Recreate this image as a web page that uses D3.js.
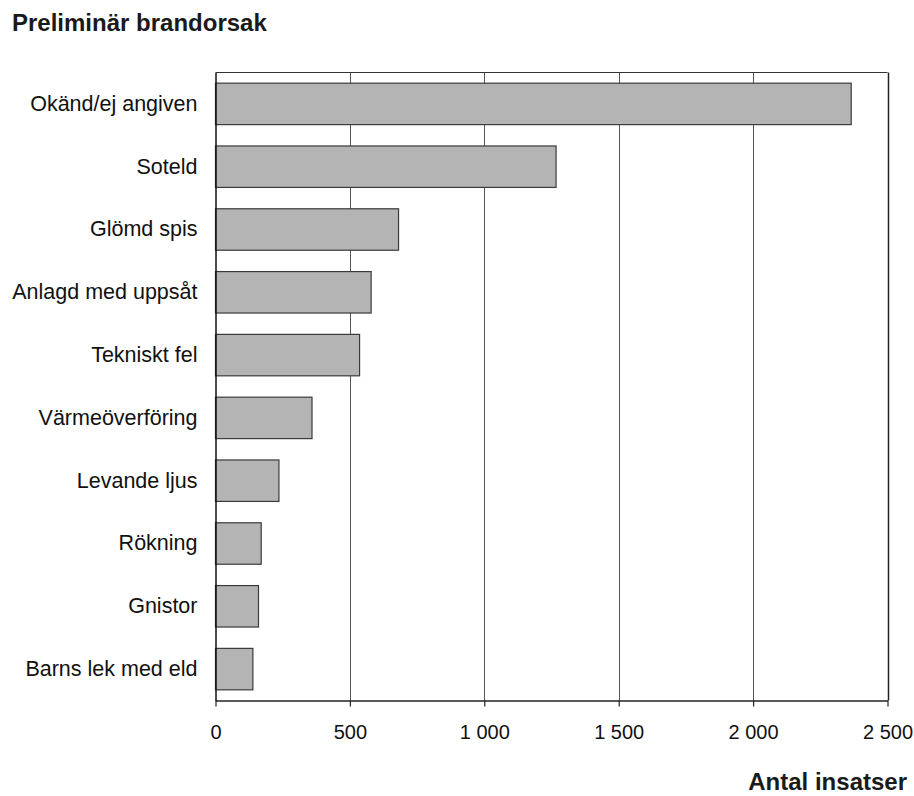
<!DOCTYPE html>
<html>
<head>
<meta charset="utf-8">
<script src="https://cdn.jsdelivr.net/npm/d3@7"></script>
<style>
  html, body { margin: 0; padding: 0; background: #fff; }
  svg { display: block; font-family: "Liberation Sans", Arial, Helvetica, sans-serif; }
</style>
</head>
<body>
<svg id="chart" width="914" height="796"></svg>
<script>
// Fire causes (preliminary) and number of call-outs
const categories = [
  "Okänd/ej angiven", "Soteld", "Glömd spis", "Anlagd med uppsåt", "Tekniskt fel",
  "Värmeöverföring", "Levande ljus", "Rökning", "Gnistor", "Barns lek med eld"
];
const values = [2365, 1267, 681, 579, 536, 359, 236, 170, 160, 139];
const xTicks = [0, 500, 1000, 1500, 2000, 2500];
const title = "Preliminär brandorsak";
const xTitle = "Antal insatser";

const svg = d3.select("#chart");
const plot = { left: 215.5, right: 887.5, top: 72.5, bottom: 700.5 };

const x = d3.scaleLinear().domain([0, 2500]).range([plot.left, plot.right]);
const y = d3.scaleBand().domain(categories).range([plot.top, plot.bottom])
  .paddingInner(0.34).paddingOuter(0.17);

const fmt = d3.formatLocale({ decimal: ",", thousands: " ", grouping: [3], currency: ["", " kr"] }).format(",d");

// Vertical gridlines (including the right frame at 2 500)
svg.append("g").selectAll("line").data(xTicks.slice(1)).join("line")
  .attr("x1", d => Math.round(x(d)) + 0.5).attr("x2", d => Math.round(x(d)) + 0.5)
  .attr("y1", plot.top).attr("y2", plot.bottom)
  .attr("stroke", d => d === 2500 ? "#222" : "#555").attr("stroke-width", d => d === 2500 ? 1.5 : 1);

// Top frame
svg.append("line")
  .attr("x1", plot.left).attr("x2", plot.right).attr("y1", plot.top).attr("y2", plot.top)
  .attr("stroke", "#333").attr("stroke-width", 1);

// Bars
svg.append("g").selectAll("rect").data(categories).join("rect")
  .attr("x", x(0))
  .attr("y", d => y(d))
  .attr("width", (d, i) => x(values[i]) - x(0))
  .attr("height", y.bandwidth())
  .attr("fill", "#b4b4b4")
  .attr("stroke", "#3a3a3a")
  .attr("stroke-width", 1.2);

// Bottom axis
const xAxis = d3.axisBottom(x).tickValues(xTicks).tickFormat(fmt).tickSize(6).tickSizeOuter(0).tickPadding(18);
const gx = svg.append("g").attr("transform", `translate(0,${plot.bottom})`).call(xAxis);
gx.select(".domain").attr("stroke", "#222").attr("stroke-width", 1.5);
gx.selectAll(".tick line").attr("stroke", "#222").attr("stroke-width", 1.2);
gx.selectAll(".tick text").attr("font-size", 20).attr("fill", "#111")
  .attr("font-family", "Liberation Sans, Arial, sans-serif");

// Left axis (category labels)
const yAxis = d3.axisLeft(y).tickSize(0).tickPadding(18);
const gy = svg.append("g").attr("transform", `translate(${plot.left},0)`).call(yAxis);
gy.select(".domain").attr("stroke", "#111").attr("stroke-width", 1.5);
gy.selectAll(".tick text").attr("font-size", 21.5).attr("fill", "#111")
  .attr("font-family", "Liberation Sans, Arial, sans-serif");

// Titles
svg.append("text").attr("x", 12).attr("y", 31)
  .attr("font-size", 24).attr("font-weight", "bold").attr("fill", "#1a1a1a")
  .text(title);
svg.append("text").attr("x", 907).attr("y", 790).attr("text-anchor", "end")
  .attr("font-size", 24).attr("font-weight", "bold").attr("fill", "#1a1a1a")
  .text(xTitle);
</script>
</body>
</html>
